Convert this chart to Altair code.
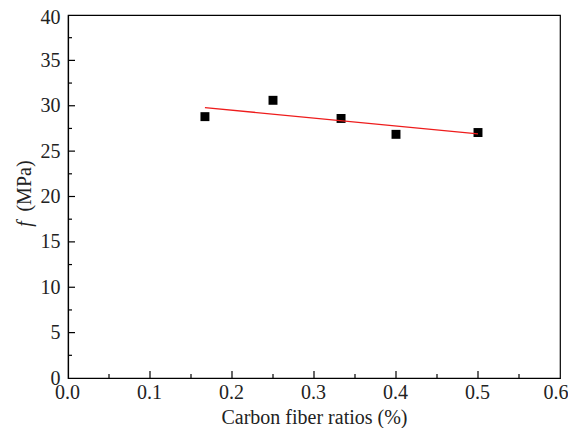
import altair as alt
import pandas as pd

# Data
ratios = [0.167, 0.25, 0.333, 0.4, 0.5]
strength = [28.8, 30.6, 28.6, 26.85, 27.05]
fit_x = [0.167, 0.5]
fit_y = [29.8, 26.9]

x_major = [0.0, 0.1, 0.2, 0.3, 0.4, 0.5, 0.6]
x_minor = [0.05, 0.15, 0.25, 0.35, 0.45, 0.55]
y_major = [0, 5, 10, 15, 20, 25, 30, 35, 40]
y_minor = [2.5, 7.5, 12.5, 17.5, 22.5, 27.5, 32.5, 37.5]

W, H = 492, 363
FONT = "Liberation Serif"
FS = 20

pts = pd.DataFrame({"x": ratios, "y": strength})
fit = pd.DataFrame({"x": fit_x, "y": fit_y})

xscale = alt.Scale(domain=[0, 0.6], nice=False, zero=False)
yscale = alt.Scale(domain=[0, 40], nice=False, zero=False)

xaxis = alt.Axis(
    values=x_major, format=".1f", tickSize=0, grid=False,
    domainColor="black", domainWidth=1.2,
    labelFont=FONT, labelFontSize=FS, labelColor="#222", labelPadding=4,
    labelAlign={"condition": {"test": "datum.value >= 0.59", "value": "right"}, "value": "center"},
    labelOffset={"condition": {"test": "datum.value >= 0.59", "value": 8}, "value": -1},
    title="Carbon fiber ratios (%)", titleFont=FONT, titleFontSize=FS,
    titleFontWeight="normal", titleColor="#222", titlePadding=5,
)
yaxis = alt.Axis(
    values=y_major, format="d", tickSize=0, grid=False,
    domainColor="black", domainWidth=1.2,
    labelFont=FONT, labelFontSize=FS, labelColor="#222", labelPadding=8,
    labelOffset={"condition": {"test": "datum.value >= 39", "value": 2}, "value": 0},
    title=None,
)

points = alt.Chart(pts).mark_point(shape="square", filled=True, color="black", size=80, opacity=1).encode(
    x=alt.X("x:Q", scale=xscale, axis=xaxis),
    y=alt.Y("y:Q", scale=yscale, axis=yaxis),
)

line = alt.Chart(fit).mark_line(color="#ee1c1c", strokeWidth=1.3).encode(
    x=alt.X("x:Q", scale=xscale),
    y=alt.Y("y:Q", scale=yscale),
)

xmaj = alt.Chart(pd.DataFrame({"x": x_major[1:-1]})).mark_rule(color="black", strokeWidth=1.2).encode(
    x=alt.X("x:Q", scale=xscale), y=alt.value(H), y2=alt.value(H - 7)
)
xmin = alt.Chart(pd.DataFrame({"x": x_minor})).mark_rule(color="black", strokeWidth=1.2).encode(
    x=alt.X("x:Q", scale=xscale), y=alt.value(H), y2=alt.value(H - 4)
)
ymaj = alt.Chart(pd.DataFrame({"y": y_major[1:-1]})).mark_rule(color="black", strokeWidth=1.2).encode(
    y=alt.Y("y:Q", scale=yscale), x=alt.value(0), x2=alt.value(7)
)
ymin = alt.Chart(pd.DataFrame({"y": y_minor})).mark_rule(color="black", strokeWidth=1.2).encode(
    y=alt.Y("y:Q", scale=yscale), x=alt.value(0), x2=alt.value(4)
)

one = pd.DataFrame({"a": [0]})
yt_f = alt.Chart(one).mark_text(
    text="f", angle=270, font=FONT, fontSize=FS, fontStyle="italic", color="#222",
    align="center", baseline="middle",
).encode(x=alt.value(-43), y=alt.value(209))
yt_u = alt.Chart(one).mark_text(
    text="(MPa)", angle=270, font=FONT, fontSize=FS, color="#222",
    align="center", baseline="middle",
).encode(x=alt.value(-43), y=alt.value(171))

chart = alt.layer(points, line, xmin, xmaj, ymin, ymaj, yt_f, yt_u).properties(
    width=W, height=H,
    autosize=alt.AutoSizeParams(type="none"),
    padding={"left": 60, "top": 7, "right": 8, "bottom": 50},
    background="white",
).configure_view(stroke="black", strokeWidth=1.2)

chart.save("out.html", embed_options={"renderer": "svg", "actions": False})
